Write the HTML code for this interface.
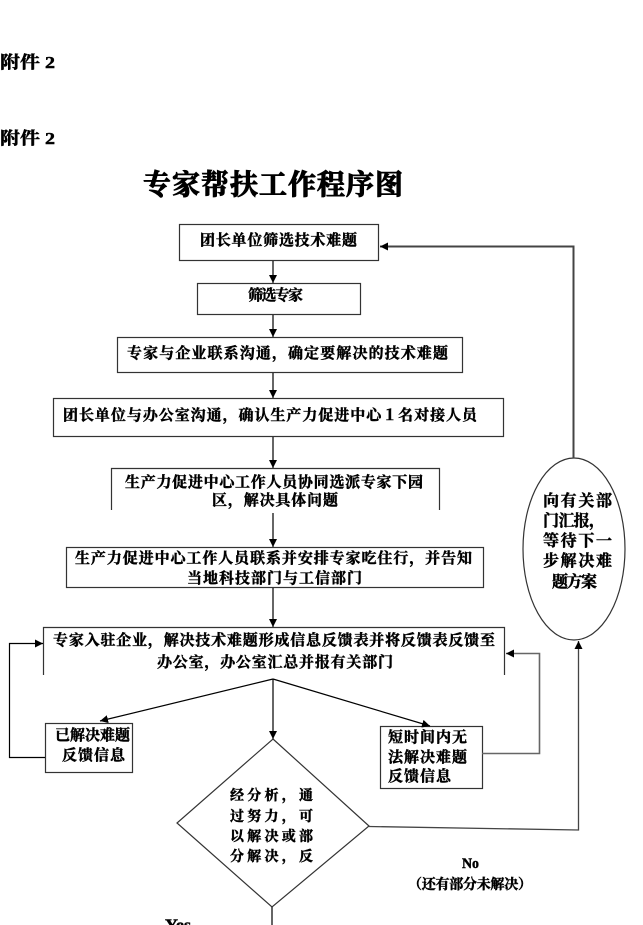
<!DOCTYPE html>
<html>
<head>
<meta charset="utf-8">
<style>
html,body{margin:0;padding:0;background:#fff;}
svg{display:block;}
text{font-family:"Liberation Serif","Noto Serif CJK SC","Noto Sans CJK SC",serif;font-weight:bold;fill:#000;stroke:#000;stroke-width:0.45px;}
.title{stroke-width:1px;}
</style>
</head>
<body>
<svg width="643" height="925" viewBox="0 0 643 925" xmlns="http://www.w3.org/2000/svg">
<defs>
<marker id="ah" markerUnits="userSpaceOnUse" markerWidth="9" markerHeight="8" refX="8" refY="4" orient="auto">
<path d="M0,0 L8,4 L0,8 Z" fill="#000"/>
</marker>
</defs>

<!-- header labels -->
<text x="0" y="68" font-size="17" textLength="55" lengthAdjust="spacingAndGlyphs">附件 2</text>
<text x="0" y="144" font-size="17" textLength="55" lengthAdjust="spacingAndGlyphs">附件 2</text>
<text class="title" x="143" y="194" font-size="28" textLength="260" lengthAdjust="spacing">专家帮扶工作程序图</text>

<g fill="none" stroke="#333" stroke-width="1.2">
<rect x="179.5" y="224.5" width="199" height="36"/>
<rect x="197.5" y="283.5" width="163" height="31"/>
<rect x="117.5" y="337.5" width="345" height="35"/>
<rect x="53.5" y="398.5" width="450" height="38"/>
<path d="M111.5,510 V468.5 H439.5 V510"/>
<rect x="66.5" y="547.5" width="417" height="40"/>
<path d="M43.5,675 V627.5 H504.5 V675"/>
<rect x="45.5" y="723.5" width="87" height="49"/>
<rect x="380.5" y="726.5" width="102" height="62"/>
<polygon points="273,739 369,826 272,907 177,823"/>
<ellipse cx="574" cy="549" rx="51" ry="91"/>
</g>

<g fill="none" stroke="#000" stroke-width="1.2">
<line x1="273" y1="261" x2="273" y2="283" marker-end="url(#ah)"/>
<line x1="273" y1="315" x2="273" y2="337" marker-end="url(#ah)"/>
<line x1="273" y1="373" x2="273" y2="398" marker-end="url(#ah)"/>
<line x1="273" y1="437" x2="273" y2="468" marker-end="url(#ah)"/>
<line x1="273" y1="513" x2="273" y2="547" marker-end="url(#ah)"/>
<line x1="273" y1="588" x2="273" y2="627" marker-end="url(#ah)"/>
<line x1="273" y1="679" x2="100" y2="721" marker-end="url(#ah)"/>
<line x1="273" y1="679" x2="273" y2="739" marker-end="url(#ah)"/>
<line x1="273" y1="679" x2="430" y2="726" marker-end="url(#ah)"/>
<path d="M45,757.5 H9.5 V643.5 H43" marker-end="url(#ah)"/>
<line x1="272" y1="907" x2="272" y2="925"/>
</g>
<path d="M482,753.5 H539.5 V653.5 H506" fill="none" stroke="#666" stroke-width="1.6" marker-end="url(#ah)"/>
<path d="M369,826.5 L578.5,830 V641" fill="none" stroke="#444" stroke-width="1.3" marker-end="url(#ah)"/>
<path d="M573.5,458 V246.5 H380" fill="none" stroke="#444" stroke-width="2" marker-end="url(#ah)"/>

<g font-size="15">
<text x="200" y="245" textLength="157" lengthAdjust="spacing">团长单位筛选技术难题</text>
<text x="248" y="300" textLength="55" lengthAdjust="spacing">筛选专家</text>
<text x="127" y="358" textLength="321" lengthAdjust="spacing">专家与企业联系沟通，确定要解决的技术难题</text>
<text x="63" y="420" textLength="414" lengthAdjust="spacing">团长单位与办公室沟通，确认生产力促进中心１名对接人员</text>
<text x="125" y="487" textLength="298" lengthAdjust="spacing">生产力促进中心工作人员协同选派专家下园</text>
<text x="212" y="505" textLength="126" lengthAdjust="spacing">区，解决具体问题</text>
<text x="75" y="563" textLength="397" lengthAdjust="spacing">生产力促进中心工作人员联系并安排专家吃住行，并告知</text>
<text x="187" y="583" textLength="175" lengthAdjust="spacing">当地科技部门与工信部门</text>
<text x="53" y="645" textLength="442" lengthAdjust="spacing">专家入驻企业，解决技术难题形成信息反馈表并将反馈表反馈至</text>
<text x="157" y="667" textLength="236" lengthAdjust="spacing">办公室，办公室汇总并报有关部门</text>
<text x="55" y="740" textLength="75" lengthAdjust="spacing">已解决难题</text>
<text x="62" y="760" textLength="63" lengthAdjust="spacing">反馈信息</text>
<text x="388" y="742" textLength="79" lengthAdjust="spacing">短时间内无</text>
<text x="388" y="762" textLength="79" lengthAdjust="spacing">法解决难题</text>
<text x="388" y="781" textLength="63" lengthAdjust="spacing">反馈信息</text>
</g>
<g font-size="14">
<text x="230" y="800" textLength="83" lengthAdjust="spacing">经分析，通</text>
<text x="230" y="821" textLength="83" lengthAdjust="spacing">过努力，可</text>
<text x="230" y="841" textLength="83" lengthAdjust="spacing">以解决或部</text>
<text x="230" y="861" textLength="83" lengthAdjust="spacing">分解决，反</text>
</g>
<g font-size="16">
<text x="543" y="506" textLength="69" lengthAdjust="spacing">向有关部</text>
<text x="543" y="526" textLength="62" lengthAdjust="spacing">门汇报，</text>
<text x="543" y="546" textLength="69" lengthAdjust="spacing">等待下一</text>
<text x="543" y="566" textLength="69" lengthAdjust="spacing">步解决难</text>
<text x="552" y="587" textLength="45" lengthAdjust="spacing">题方案</text>
</g>
<text x="462" y="868" font-size="15" textLength="17" lengthAdjust="spacingAndGlyphs">No</text>
<text x="408" y="889" font-size="14" textLength="124" lengthAdjust="spacing">（还有部分未解决）</text>
<text x="165" y="930" font-size="16" textLength="26" lengthAdjust="spacingAndGlyphs">Yes</text>
</svg>
</body>
</html>
